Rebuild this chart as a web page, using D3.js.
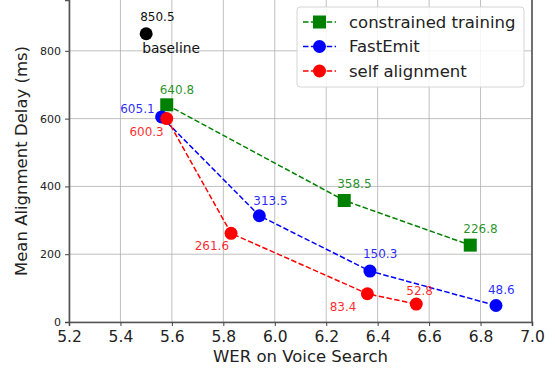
<!DOCTYPE html>
<html>
<head>
<meta charset="utf-8">
<title>WER vs Mean Alignment Delay</title>
<style>
	body { margin: 0; background: #fff; }
	svg { display: block; font-family: "DejaVu Sans", sans-serif; }
	svg text { font-family: "DejaVu Sans", sans-serif; }
</style>
</head>
<body>
<svg id="chart" width="555" height="374"></svg>
<script src="https://cdn.jsdelivr.net/npm/d3@7/dist/d3.min.js"></script>
<script>
// data
var seriesNames = ['constrained training', 'FastEmit', 'self alignment'];
var constrainedWer = [5.58, 6.27, 6.76];
var constrainedDelay = [640.8, 358.5, 226.8];
var fastEmitWer = [5.56, 5.94, 6.37, 6.86];
var fastEmitDelay = [605.1, 313.5, 150.3, 48.6];
var selfAlignWer = [5.58, 5.83, 6.36, 6.55];
var selfAlignDelay = [600.3, 261.6, 83.4, 52.8];
var baselineWer = 5.5;
var baselineDelay = 850.5;
var xTicks = [5.2, 5.4, 5.6, 5.8, 6.0, 6.2, 6.4, 6.6, 6.8, 7.0];
var yTicks = [0, 200, 400, 600, 800];

// label placement (pixels from the marker)
var constrainedLabels = [[-7, -11, 'start'], [-7, -12, 'start'], [-7, -12, 'start']];
var fastEmitLabels = [[-7, -4, 'end'], [-6, -11, 'start'], [-7, -13, 'start'], [-8, -12, 'start']];
var selfAlignLabels = [[-3, 17, 'end'], [-2, 17, 'end'], [-11, 17, 'end'], [-10, -9, 'start']];

var series = [
	{ name: seriesNames[0], wer: constrainedWer, delay: constrainedDelay, color: 'green', marker: 'square', labels: constrainedLabels },
	{ name: seriesNames[1], wer: fastEmitWer, delay: fastEmitDelay, color: 'blue', marker: 'circle', labels: fastEmitLabels },
	{ name: seriesNames[2], wer: selfAlignWer, delay: selfAlignDelay, color: 'red', marker: 'circle', labels: selfAlignLabels }
];

var svg = d3.select('#chart');
var plotLeft = 69, plotRight = 532, plotTop = 0, plotBottom = 322;

var x = d3.scaleLinear().domain([5.2, 7.0]).range([plotLeft, plotRight]);
var y = d3.scaleLinear().domain([0, 950]).range([plotBottom, plotTop]);

// grid
var grid = svg.append('g');
grid.selectAll('line.vx').data(xTicks).enter().append('line')
	.attr('x1', d => x(d)).attr('x2', d => x(d))
	.attr('y1', plotTop).attr('y2', plotBottom)
	.style('stroke', '#b0b0b0').style('stroke-width', 0.8);
grid.selectAll('line.hy').data(yTicks).enter().append('line')
	.attr('x1', plotLeft).attr('x2', plotRight)
	.attr('y1', d => y(d)).attr('y2', d => y(d))
	.style('stroke', '#b0b0b0').style('stroke-width', 0.8);

// axes
var xAxis = svg.append('g')
	.attr('transform', 'translate(0,' + plotBottom + ')')
	.call(d3.axisBottom(x).tickValues(xTicks).tickFormat(d3.format('.1f')).tickSizeOuter(0).tickSize(4).tickPadding(5));
xAxis.selectAll('text').style('font-size', '15.5px').style('fill', '#222');

var yAxis = svg.append('g')
	.attr('transform', 'translate(' + plotLeft + ',0)')
	.call(d3.axisLeft(y).tickValues(yTicks).tickSizeOuter(0).tickSize(4).tickPadding(4));
yAxis.selectAll('text').style('font-size', '11px').style('fill', '#222');

svg.selectAll('.domain').style('stroke', '#555').style('stroke-width', 1.6);
svg.selectAll('.tick line').style('stroke', '#444');

svg.append('line')
	.attr('x1', plotRight).attr('x2', plotRight).attr('y1', plotTop).attr('y2', plotBottom)
	.style('stroke', '#555').style('stroke-width', 1.6);

// axis titles
svg.append('text')
	.attr('x', (plotLeft + plotRight) / 2).attr('y', 362)
	.attr('text-anchor', 'middle')
	.style('font-size', '16.5px').style('fill', '#222')
	.text('WER on Voice Search');

svg.append('text')
	.attr('transform', 'translate(27,' + ((plotTop + plotBottom) / 2) + ') rotate(-90)')
	.attr('text-anchor', 'middle')
	.style('font-size', '16.5px').style('fill', '#222')
	.text('Mean Alignment Delay (ms)');

function drawMarker(g, kind, cx, cy, color) {
	if (kind === 'square') {
		g.append('rect')
			.attr('x', cx - 6.5).attr('y', cy - 6.5)
			.attr('width', 13).attr('height', 13)
			.style('fill', color);
	} else {
		g.append('circle')
			.attr('cx', cx).attr('cy', cy).attr('r', 6.5)
			.style('fill', color);
	}
}

var line = d3.line().x(d => x(d[0])).y(d => y(d[1]));

// series lines and markers
series.forEach(function (s) {
	var pts = s.wer.map((w, i) => [w, s.delay[i]]);
	var g = svg.append('g');
	g.append('path')
		.attr('d', line(pts))
		.style('fill', 'none')
		.style('stroke', s.color)
		.style('stroke-width', 1.5)
		.style('stroke-dasharray', '5.5,2.4');
	pts.forEach(function (p) {
		drawMarker(g, s.marker, x(p[0]), y(p[1]), s.color);
	});
});

// value labels
series.forEach(function (s) {
	s.wer.forEach(function (w, i) {
		var o = s.labels[i];
		svg.append('text')
			.attr('x', x(w) + o[0]).attr('y', y(s.delay[i]) + o[1])
			.attr('text-anchor', o[2])
			.style('font-size', '12px')
			.style('fill', s.color)
			.style('fill-opacity', 0.85)
			.text(d3.format('.1f')(s.delay[i]));
	});
});

// baseline
drawMarker(svg, 'circle', x(baselineWer), y(baselineDelay), 'black');
svg.append('text')
	.attr('x', x(baselineWer) - 6).attr('y', y(baselineDelay) - 13)
	.style('font-size', '12px').style('fill', '#111')
	.text(d3.format('.1f')(baselineDelay));
svg.append('text')
	.attr('x', x(baselineWer) - 4).attr('y', y(baselineDelay) + 19)
	.style('font-size', '13.8px').style('fill', '#111')
	.text('baseline');

// legend
var legend = svg.append('g');
legend.append('rect')
	.attr('x', 297).attr('y', 7).attr('width', 227).attr('height', 80)
	.attr('rx', 3)
	.style('fill', 'white').style('fill-opacity', 0.85)
	.style('stroke', '#d5d5d5').style('stroke-width', 1);
var legendY = d3.scalePoint().domain(seriesNames).range([22, 71]);
series.forEach(function (s) {
	var ly = legendY(s.name);
	legend.append('line')
		.attr('x1', 303).attr('x2', 336).attr('y1', ly).attr('y2', ly)
		.style('stroke', s.color).style('stroke-width', 1.5)
		.style('stroke-dasharray', '5.5,2.4');
	drawMarker(legend, s.marker, 319.5, ly, s.color);
	legend.append('text')
		.attr('x', 349).attr('y', ly).attr('dy', '0.35em')
		.style('font-size', '16.5px').style('fill', '#222')
		.text(s.name);
});
</script>
</body>
</html>
